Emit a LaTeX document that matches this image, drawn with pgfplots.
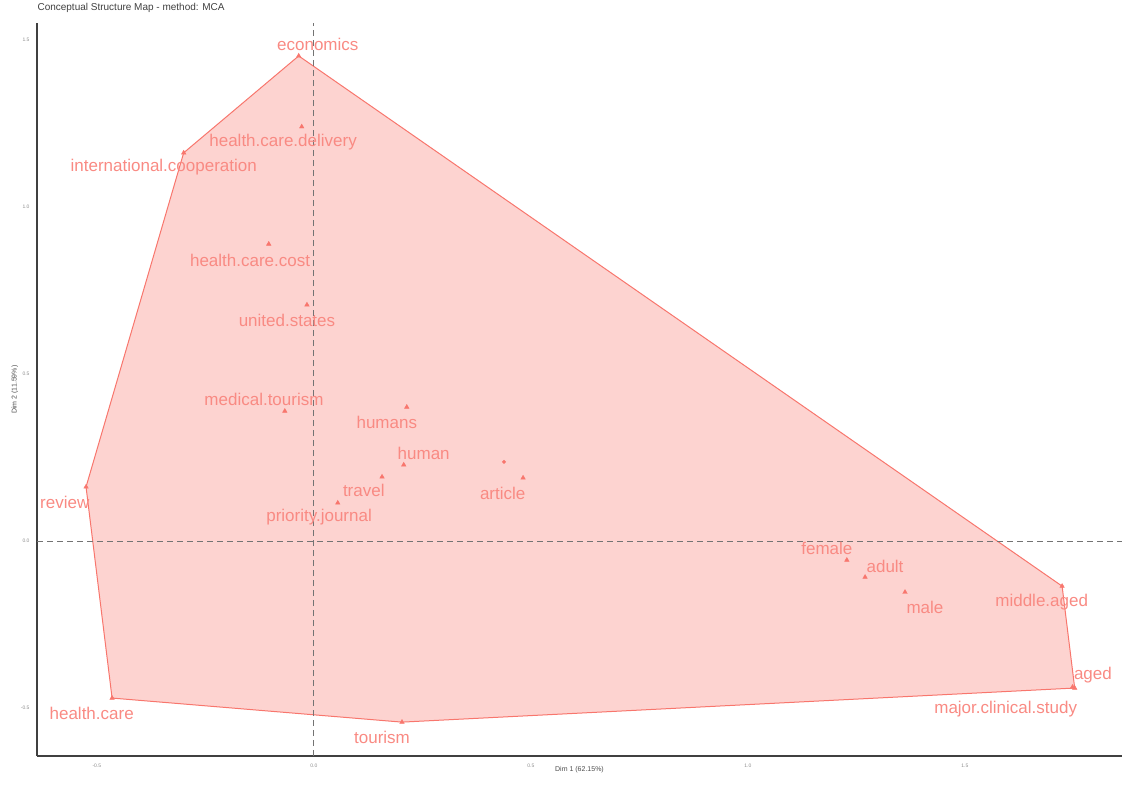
\documentclass[border=0pt]{standalone}
\usepackage{pgfplots}
\pgfplotsset{compat=1.18}
\usepackage{fontspec}
\setmainfont{Liberation Sans}
\usetikzlibrary{calc}
\definecolor{hull}{HTML}{F8766D}
\tikzset{lab/.style={font=\fontsize{17}{19}\selectfont, text=hull!85, inner sep=0pt}}
\begin{document}
\begin{tikzpicture}
\begin{axis}[name=ax,
  scale only axis, width=1085pt, height=733pt,
  xmin=-0.638, xmax=1.862, ymin=-0.644, ymax=1.55,
  axis x line*=bottom, axis y line*=left,
  axis line style={-, black!75, line width=1.6pt},
  xtick={-0.5,0,0.5,1,1.5}, ytick={-0.5,0,0.5,1,1.5},
  xticklabels={-0.5,0.0,0.5,1.0,1.5}, yticklabels={-0.5,0.0,0.5,1.0,1.5},
  major tick length=0pt,
  /pgf/number format/assume math mode=true,
  tick label style={font=\fontsize{5}{6}\selectfont, text=black!45},
  xticklabel style={yshift=-4pt}, yticklabel style={xshift=-4pt},
  xlabel={Dim 1 (62.15\%)}, ylabel={Dim 2 (11.59\%)},
  label style={font=\fontsize{7}{8}\selectfont, text=black!70},
  xlabel style={yshift=8pt}, ylabel style={yshift=-4pt},
  title={Conceptual Structure Map - method: MCA},
  title style={font=\fontsize{10}{12}\selectfont, text=black!75, anchor=south west, at={(rel axis cs:0,1)}, xshift=-3pt, yshift=1pt},
  clip=false,
]
% convex hull
\addplot[draw=hull, line width=1pt, fill=hull!32] coordinates {
  (-0.035,1.452) (-0.300,1.162) (-0.525,0.162) (-0.465,-0.470)
  (0.203,-0.542) (1.753,-0.440) (1.724,-0.135)} -- cycle;
% reference lines
\addplot[black!55, line width=1pt, dash pattern=on 6pt off 4pt] coordinates {(-0.638,0) (1.862,0)};
\addplot[black!55, line width=1pt, dash pattern=on 6pt off 4pt] coordinates {(0,-0.644) (0,1.55)};
% points
\addplot[only marks, mark=triangle*, mark size=2.6pt, color=hull] coordinates {
  (-0.035,1.452) (-0.028,1.240) (-0.300,1.162) (-0.104,0.889) (-0.016,0.707)
  (-0.067,0.389) (0.214,0.401) (0.207,0.228) (0.482,0.189) (0.157,0.192)
  (0.055,0.114) (-0.525,0.162) (-0.465,-0.470) (0.203,-0.542)
  (1.228,-0.057) (1.270,-0.108) (1.362,-0.153) (1.724,-0.135)
  (1.753,-0.440) (1.748,-0.437)};
\addplot[only marks, mark=*, mark size=1.8pt, color=hull] coordinates {(0.438,0.237)};
% labels
\node[lab] at (axis cs:0.009,1.485) {economics};
\node[lab] at (axis cs:-0.071,1.195) {health.care.delivery};
\node[lab] at (axis cs:-0.346,1.120) {international.cooperation};
\node[lab] at (axis cs:-0.147,0.841) {health.care.cost};
\node[lab] at (axis cs:-0.062,0.659) {united.states};
\node[lab] at (axis cs:-0.115,0.425) {medical.tourism};
\node[lab] at (axis cs:0.168,0.356) {humans};
\node[lab] at (axis cs:0.253,0.263) {human};
\node[lab] at (axis cs:0.435,0.144) {article};
\node[lab] at (axis cs:0.115,0.150) {travel};
\node[lab] at (axis cs:0.012,0.072) {priority.journal};
\node[lab] at (axis cs:-0.574,0.117) {review};
\node[lab] at (axis cs:-0.512,-0.515) {health.care};
\node[lab] at (axis cs:0.157,-0.587) {tourism};
\node[lab] at (axis cs:1.182,-0.021) {female};
\node[lab] at (axis cs:1.316,-0.075) {adult};
\node[lab] at (axis cs:1.408,-0.198) {male};
\node[lab] at (axis cs:1.677,-0.183) {middle.aged};
\node[lab] at (axis cs:1.795,-0.401) {aged};
\node[lab] at (axis cs:1.594,-0.503) {major.clinical.study};
\end{axis}
\path[use as bounding box] ($(ax.south west)+(-37pt,-32pt)$) rectangle ($(ax.north east)+(2pt,22pt)$);
\end{tikzpicture}
\end{document}
